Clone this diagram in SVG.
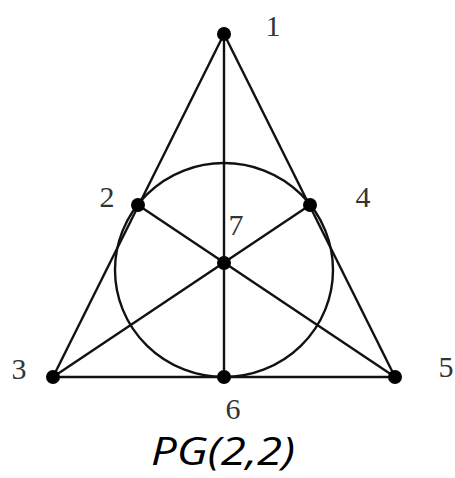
<svg xmlns="http://www.w3.org/2000/svg" width="455" height="478" viewBox="0 0 455 478">
<style>
.l{stroke:#111;stroke-width:2.4;fill:none}
.p{fill:#000}
.t{font-family:"Liberation Serif","DejaVu Serif",serif;font-size:30px;fill:#333;text-anchor:middle}
.c{font-family:"Open Sans",Lato,sans-serif;font-style:italic;font-size:38px;fill:#000}
</style>
<rect width="455" height="478" fill="#fff"/>
<g id="connectors">
<line class="l" x1="224" y1="34" x2="53" y2="377"/>
<line class="l" x1="224" y1="34" x2="395" y2="377"/>
<line class="l" x1="53" y1="377" x2="395" y2="377"/>
<line class="l" x1="224" y1="34" x2="224" y2="377"/>
<line class="l" x1="138" y1="205" x2="395" y2="377"/>
<line class="l" x1="310" y1="205" x2="53" y2="377"/>
<ellipse class="l" cx="224" cy="270" rx="109" ry="107"/>
</g>
<g id="n1"><circle class="p" cx="224" cy="34" r="7"/><text class="t" x="273" y="36">1</text></g>
<g id="n2"><circle class="p" cx="138" cy="205" r="7"/><text class="t" x="107" y="207">2</text></g>
<g id="n3"><circle class="p" cx="53" cy="377" r="7"/><text class="t" x="19" y="379">3</text></g>
<g id="n4"><circle class="p" cx="310" cy="205" r="7"/><text class="t" x="363" y="207">4</text></g>
<g id="n5"><circle class="p" cx="395" cy="377" r="7"/><text class="t" x="446" y="377">5</text></g>
<g id="n6"><circle class="p" cx="224" cy="377" r="7"/><text class="t" x="233" y="419">6</text></g>
<g id="n7"><circle class="p" cx="224" cy="263" r="7"/><text class="t" x="236" y="235">7</text></g>
<text class="c" x="151" y="465" textLength="144" lengthAdjust="spacingAndGlyphs">PG(2,2)</text>
</svg>
